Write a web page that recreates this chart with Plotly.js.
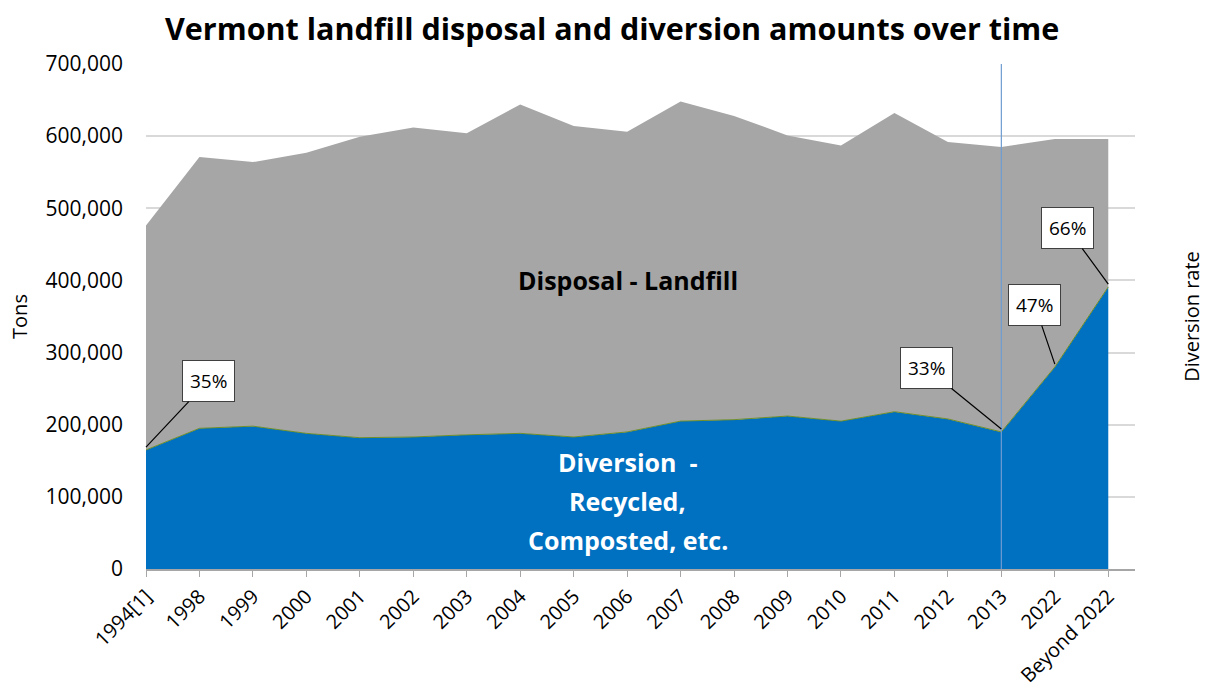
<!DOCTYPE html>
<html>
<head>
<meta charset="utf-8">
<script src="https://cdn.plot.ly/plotly-3.0.1.min.js"></script>
<style>html,body{margin:0;padding:0;background:#fff;}#chart{width:1205px;height:689px;}</style>
</head>
<body>
<div id="chart"></div>
<script>
var categories = ["1994[1]","1998","1999","2000","2001","2002","2003","2004","2005","2006","2007","2008","2009","2010","2011","2012","2013","2022","Beyond 2022"];
var diversion = [165000,195000,198000,188000,182000,183000,186000,188000,183000,190000,205000,207000,212000,205000,218000,208000,190000,280000,391000];
var disposal  = [311000,376000,366000,389000,417000,429000,418000,456000,431000,416000,443000,421000,389000,382000,414000,384000,395000,316000,205000];
var rateCats = ["1994[1]","2013","2022","Beyond 2022"];
var rateLabels = ["35%","33%","47%","66%"];
var markerCat = "2013";

var traces = [
  {x: categories, y: diversion, type: "scatter", mode: "lines", stackgroup: "one",
   name: "Diversion", line: {color: "#6f8f2a", width: 1}, fillcolor: "#0070c0", hoverinfo: "x+y"},
  {x: categories, y: disposal, type: "scatter", mode: "lines", stackgroup: "one",
   name: "Disposal", line: {color: "#a6a6a6", width: 0}, fillcolor: "#a6a6a6", hoverinfo: "x+y"},
  {x: [categories[0]], y: [0], yaxis: "y2", type: "scatter", mode: "markers",
   marker: {opacity: 0}, hoverinfo: "skip", showlegend: false}
];

var offsets = [[62,-66],[-75,-61],[-20,-59],[-41,-56]];
var annotations = [];
for (var i = 0; i < rateCats.length; i++) {
  var idx = categories.indexOf(rateCats[i]);
  annotations.push({
    x: idx, y: diversion[idx] + 4000, xref: "x", yref: "y",
    text: rateLabels[i], showarrow: true, arrowhead: 0, arrowwidth: 1.2, arrowcolor: "#000",
    ax: offsets[i][0], ay: offsets[i][1],
    bgcolor: "#fff", bordercolor: "#404040", borderwidth: 1, borderpad: 7,
    font: {family: "Open Sans", size: 19, color: "#000"}
  });
}
annotations.push({x: 0.487, y: 0.572, xref: "paper", yref: "paper", showarrow: false,
  text: "<b>Disposal - Landfill</b>", font: {family: "Open Sans", size: 25, color: "#000"}});
var divLines = ["Diversion  -", "Recycled,", "Composted, etc."];
var divY = [0.174, 0.097, 0.020];
for (var j = 0; j < divLines.length; j++) {
  annotations.push({x: 0.487, y: divY[j], xref: "paper", yref: "paper", showarrow: false,
    text: "<b>" + divLines[j] + "</b>", font: {family: "Open Sans", size: 25, color: "#fff"}});
}

var layout = {
  width: 1205, height: 689,
  margin: {l: 146, r: 70, t: 64, b: 120},
  paper_bgcolor: "#fff", plot_bgcolor: "#fff",
  showlegend: false,
  title: {text: "<b>Vermont landfill disposal and diversion amounts over time</b>",
          font: {family: "Open Sans", size: 30.5, color: "#000"}, x: 0.508, xanchor: "center", y: 0.957, yanchor: "middle"},
  xaxis: {type: "category", range: [0, 18.5], tickangle: -45,
          tickfont: {family: "Open Sans", size: 20, color: "#000"},
          showline: true, linecolor: "#a6a6a6", linewidth: 1.5,
          ticks: "outside", ticklen: 6, tickcolor: "#a6a6a6", showgrid: false, zeroline: false},
  yaxis: {range: [0, 700000], dtick: 100000, tickformat: ",d",
          tickfont: {family: "Open Sans", size: 21, color: "#000"}, ticklabelstandoff: 22,
          gridcolor: "#d9d9d9", gridwidth: 1.5, zeroline: false, showline: false, ticks: "",
          title: {text: "Tons", font: {family: "Open Sans", size: 20, color: "#000"}, standoff: 12}},
  yaxis2: {overlaying: "y", side: "right", range: [0, 700000], showticklabels: false, showgrid: false,
           zeroline: false, showline: false, ticks: "",
           title: {text: "Diversion rate", font: {family: "Open Sans", size: 20, color: "#000"}, standoff: 50}},
  shapes: [{type: "line", xref: "x", yref: "paper", x0: categories.indexOf(markerCat), x1: categories.indexOf(markerCat), y0: 0, y1: 1,
            line: {color: "#6d9bd1", width: 1.2}}],
  annotations: annotations
};
Plotly.newPlot("chart", traces, layout, {displayModeBar: false});
</script>
</body>
</html>
